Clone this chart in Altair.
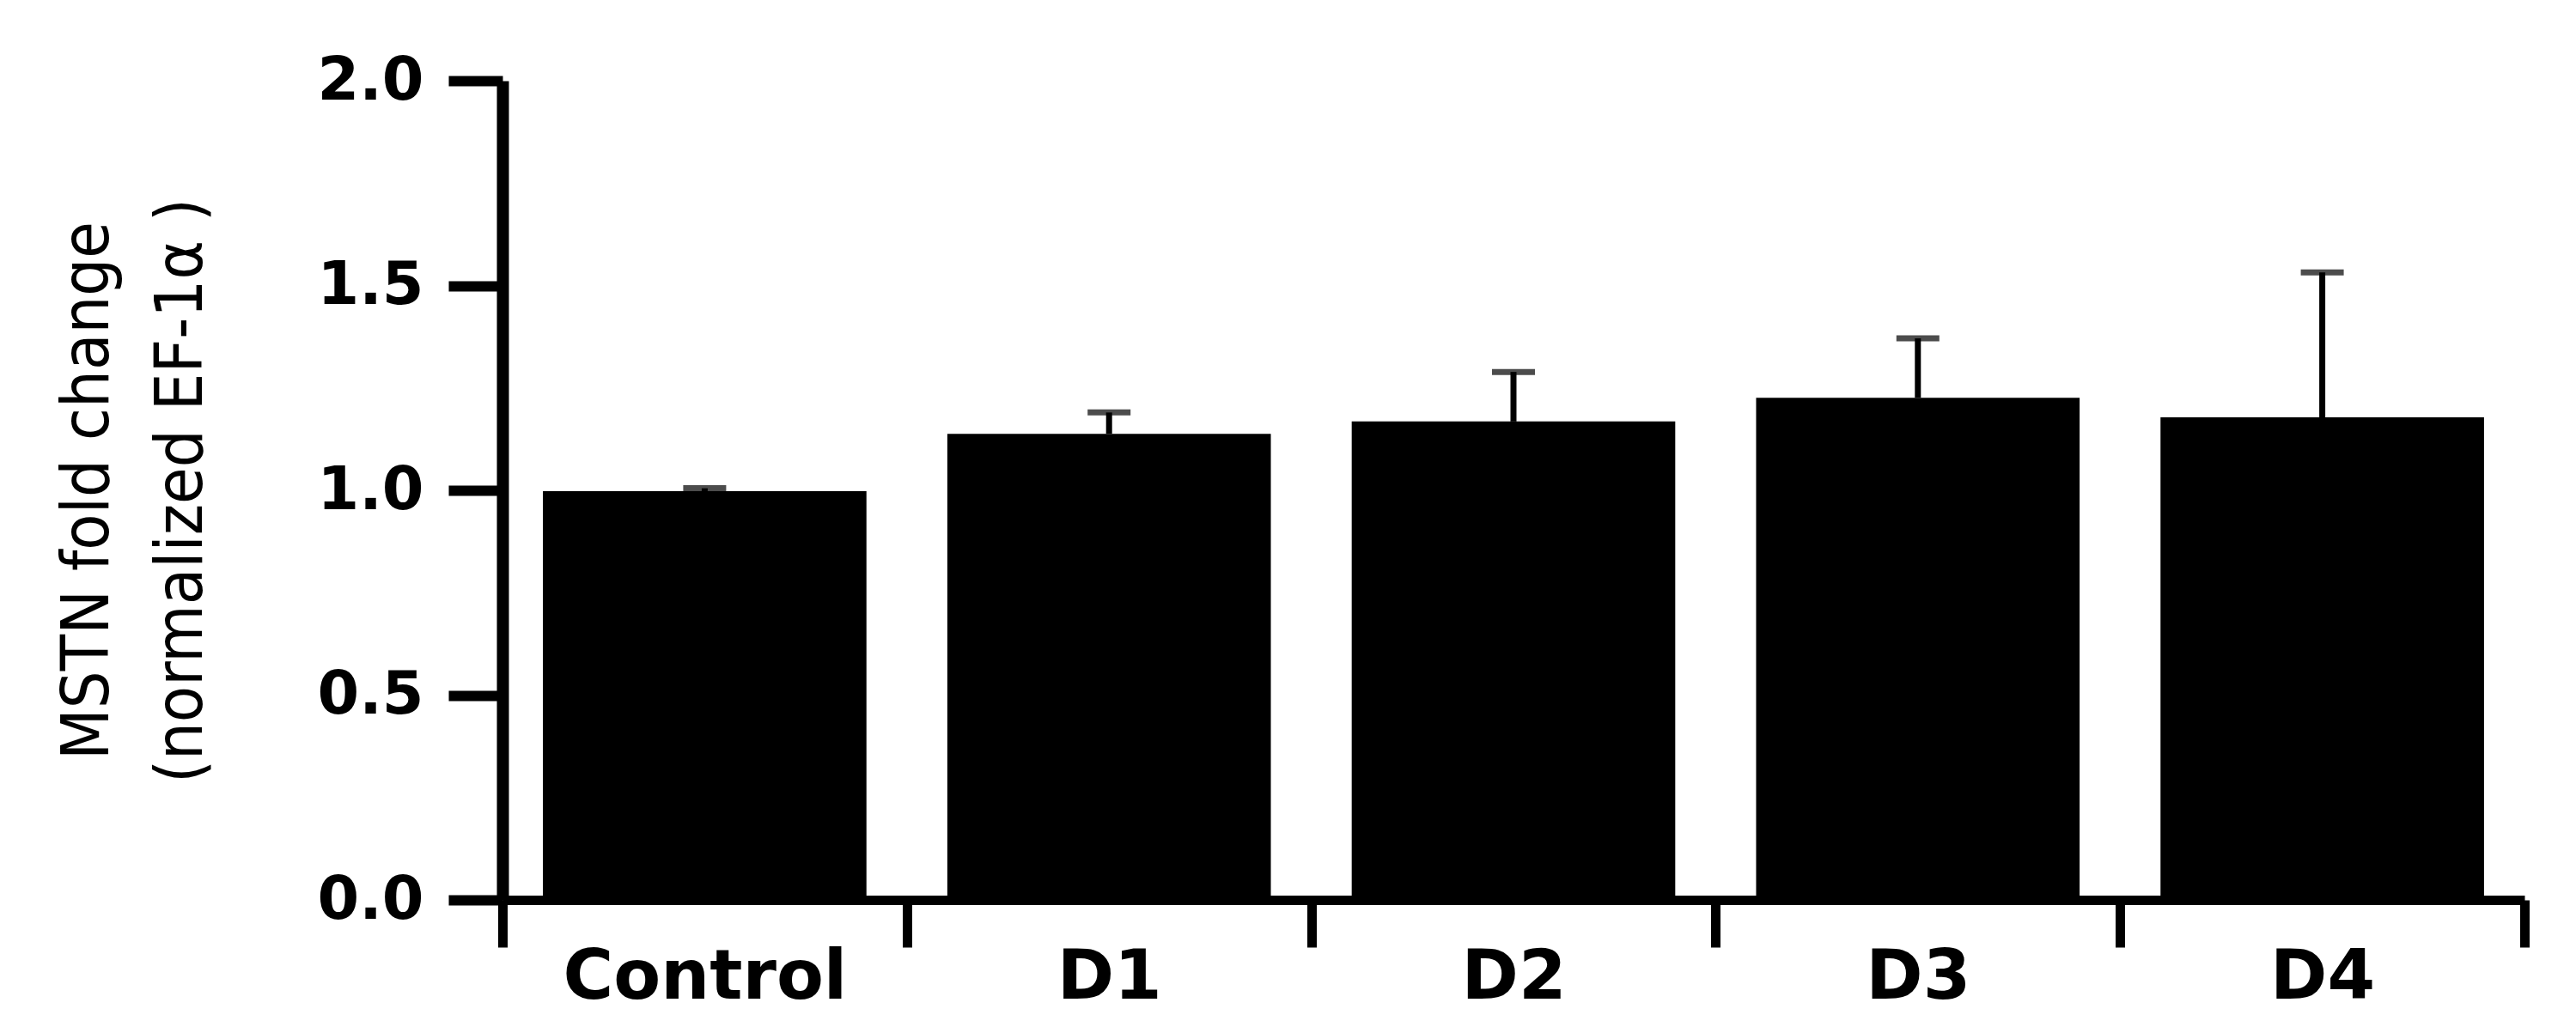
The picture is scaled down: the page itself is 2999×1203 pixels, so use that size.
import altair as alt
import pandas as pd

groups = ["Control", "D1", "D2", "D3", "D4"]
means = [0.998, 1.138, 1.168, 1.226, 1.178]
uppers = [1.005, 1.190, 1.289, 1.371, 1.532]
y_ticks = [0.0, 0.5, 1.0, 1.5, 2.0]

df = pd.DataFrame({"group": groups, "mean": means, "upper": uppers})

x_enc = alt.X(
    "group:N",
    sort=groups,
    scale=alt.Scale(paddingInner=0, paddingOuter=0),
    axis=alt.Axis(
        title=None,
        labelAngle=0,
        labelLimit=0,
        tickBand="extent",
        tickSize=55,
        tickWidth=11,
        domainWidth=11,
        labelFont="DejaVu Sans",
        labelFontWeight="bold",
        labelFontSize=80,
        labelPadding=-4,
        labelColor="black",
        tickColor="black",
        domainColor="black",
    ),
)

y_enc = alt.Y(
    "mean:Q",
    scale=alt.Scale(domain=[0, 2], nice=False),
    axis=alt.Axis(
        values=y_ticks,
        format=".1f",
        tickSize=63,
        tickWidth=12,
        domainWidth=14,
        labelFont="DejaVu Sans",
        labelFontWeight="bold",
        labelFontSize=70,
        labelPadding=29,
        labelColor="black",
        tickColor="black",
        domainColor="black",
        grid=False,
        title=["MSTN fold change", "(normalized EF-1α )"],
        titleFont="DejaVu Sans Condensed, Liberation Sans",
        titleFontSize=77,
        titleFontWeight="normal",
        titleColor="black",
        titleAngle=270,
        titleAlign="center",
        titleBaseline="top",
        titleX=-521,
        titleY=477,
        titleLineHeight=109,
    ),
)

bars = alt.Chart(df).mark_bar(color="black", width=alt.RelativeBandSize(0.8)).encode(x=x_enc, y=y_enc)

stems = alt.Chart(df).mark_rule(color="black", strokeWidth=7).encode(
    x=alt.X("group:N", sort=groups),
    y="mean:Q",
    y2="upper:Q",
)

caps = alt.Chart(df).mark_tick(color="black", size=50, thickness=7, orient="horizontal").encode(
    x=alt.X("group:N", sort=groups),
    y="upper:Q",
)

chart = (
    alt.layer(bars, stems, caps)
    .properties(
        width=2354,
        height=954,
        autosize=alt.AutoSizeParams(type="none"),
        padding={"left": 577, "top": 86, "right": 40, "bottom": 140},
    )
    .configure_view(stroke=None)
)

chart.save("out.html", embed_options={"renderer": "svg", "actions": False})
